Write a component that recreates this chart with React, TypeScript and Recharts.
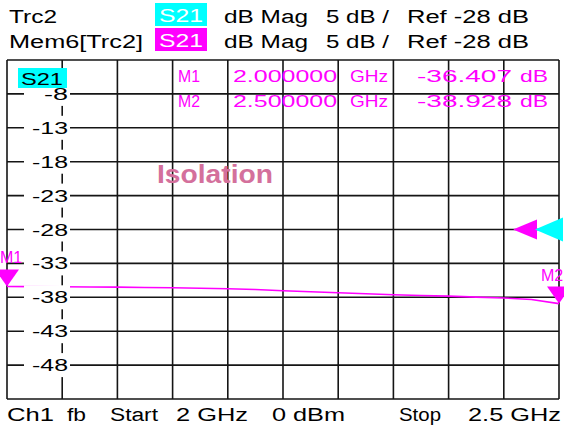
import React from 'react';
import { LineChart, Line, XAxis, YAxis, CartesianGrid, ReferenceDot } from 'recharts';

// sweep points (GHz) and the memory trace S21 (dB)
const freqs = [
  2.0, 2.025, 2.05, 2.075, 2.1, 2.125, 2.15, 2.175, 2.2, 2.225, 2.25,
  2.275, 2.3, 2.325, 2.35, 2.375, 2.4, 2.425, 2.45, 2.475, 2.5,
];
const s21 = [
  -36.41, -36.43, -36.45, -36.47, -36.5, -36.55, -36.6, -36.67, -36.75, -36.86, -37.03,
  -37.18, -37.32, -37.48, -37.63, -37.74, -37.83, -37.97, -38.1, -38.32, -38.93,
];
const freqTicks = [2.0, 2.05, 2.1, 2.15, 2.2, 2.25, 2.3, 2.35, 2.4, 2.45, 2.5];
const dbTicks = [-3, -8, -13, -18, -23, -28, -33, -38, -43, -48, -53];
const refLevel = -28;
const markers = [
  { name: 'M1', f: 2.0, db: -36.407, freqText: '2.000000', dbText: '-36.407' },
  { name: 'M2', f: 2.5, db: -38.928, freqText: '2.500000', dbText: '-38.928' },
];

const data = freqs.map((f, i) => ({ f, s21: s21[i] }));

const FONT = '"Liberation Sans", Arial, sans-serif';
const MAGENTA = '#ff00ff';
const CYAN = '#00ffff';

function T({ x, y, w, children, size = 17, fill = '#000', weight = 'normal' }: any) {
  return (
    <text x={x} y={y} fontSize={size} fill={fill} fontWeight={weight} fontFamily={FONT}
      textLength={w} lengthAdjust="spacingAndGlyphs">{children}</text>
  );
}

function DbTick(props: any) {
  const { y, payload } = props;
  const v = payload.value;
  if (v === dbTicks[0] || v === dbTicks[dbTicks.length - 1]) return <g />;
  const label = String(v);
  return (
    <g>
      <rect x={24} y={y - 12} width={46} height={24} fill="#fff" />
      <text x={68} y={y + 6} textAnchor="end" fontSize={17} fontFamily={FONT} fill="#000"
        textLength={label.length * 12} lengthAdjust="spacingAndGlyphs">{label}</text>
    </g>
  );
}

function MarkerShape(name: string, right: boolean) {
  return ({ cx, cy }: any) => (
    <g>
      <path d={`M${cx},${cy} L${cx - 12},${cy - 17} L${cx + 12},${cy - 17} Z`} fill={MAGENTA} />
      <text x={right ? cx - 18 : cx - 7} y={cy - 23} fontSize={16} fill={MAGENTA} fontFamily={FONT}>{name}</text>
    </g>
  );
}

function RefShape({ cx, cy }: any) {
  return (
    <g>
      <line x1={cx - 46} y1={cy} x2={cx - 22} y2={cy} stroke="#000" strokeDasharray="3 2" />
      <path d={`M${cx - 46},${cy} L${cx - 22},${cy - 10} L${cx - 22},${cy + 10} Z`} fill={MAGENTA} />
      <path d={`M${cx - 24},${cy} L${cx + 4},${cy - 12} L${cx + 4},${cy + 12} Z`} fill={CYAN} />
    </g>
  );
}

export default function App() {
  return (
    <div style={{ position: 'absolute', left: 0, top: 0, width: 564, height: 433, background: '#fff', overflow: 'hidden' }}>
      <LineChart width={564} height={433} data={data} margin={{ top: 60, right: 5, bottom: 34, left: 7 }}>
        <CartesianGrid stroke="#151515" strokeWidth={1.6} />
        <XAxis type="number" dataKey="f" domain={[2, 2.5]} ticks={freqTicks} hide />
        <YAxis type="number" domain={[-53, -3]} ticks={dbTicks} interval={0} mirror
          axisLine={false} tickLine={false} tick={(p: any) => <DbTick {...p} />} allowDataOverflow />
        <Line type="linear" dataKey="s21" stroke={MAGENTA} strokeWidth={1.6} dot={false} isAnimationActive={false} />
        <ReferenceDot x={2.5} y={refLevel} ifOverflow="visible" shape={RefShape} />
        {markers.map((m, i) => (
          <ReferenceDot key={m.name} x={m.f} y={m.db} ifOverflow="visible" shape={MarkerShape(m.name, i === 1)} />
        ))}
      </LineChart>
      <svg width={564} height={433} style={{ position: 'absolute', left: 0, top: 0, pointerEvents: 'none' }}>
        {/* header */}
        <T x={9} y={23} w={48} size={18}>Trc2</T>
        <rect x={155} y={3} width={52} height={23} fill={CYAN} />
        <T x={159} y={22} w={44} size={18} fill="#fff">S21</T>
        <T x={224} y={23} w={84} size={18}>dB Mag</T>
        <T x={326} y={23} w={63} size={18}>5 dB /</T>
        <T x={407} y={23} w={122} size={18}>Ref -28 dB</T>
        <T x={9} y={48} w={134} size={18}>Mem6[Trc2]</T>
        <rect x={155} y={28} width={52} height={23} fill={MAGENTA} />
        <T x={159} y={47} w={44} size={18} fill="#fff">S21</T>
        <T x={224} y={48} w={84} size={18}>dB Mag</T>
        <T x={326} y={48} w={63} size={18}>5 dB /</T>
        <T x={407} y={48} w={122} size={18}>Ref -28 dB</T>
        {/* trace label inside the diagram */}
        <rect x={18} y={68} width={49} height={20} fill={CYAN} />
        <T x={21} y={85} w={42}>S21</T>
        {markers.map((m, i) => (
          <g key={m.name}>
            <T x={178} y={82 + i * 25} w={22} fill={MAGENTA}>{m.name}</T>
            <T x={233} y={82 + i * 25} w={104} fill={MAGENTA}>{m.freqText}</T>
            <T x={350} y={82 + i * 25} w={38} fill={MAGENTA}>GHz</T>
            <T x={417} y={82 + i * 25} w={95} fill={MAGENTA}>{m.dbText}</T>
            <T x={520} y={82 + i * 25} w={28} fill={MAGENTA}>dB</T>
          </g>
        ))}
        <T x={157} y={183} w={116} size={26} weight="bold" fill="#d4709c">Isolation</T>
        {/* footer */}
        <T x={7} y={421} w={47} size={18}>Ch1</T>
        <T x={67} y={421} w={19} size={18}>fb</T>
        <T x={110} y={421} w={48} size={18}>Start</T>
        <T x={176} y={421} w={72} size={18}>2 GHz</T>
        <T x={272} y={421} w={73} size={18}>0 dBm</T>
        <T x={399} y={421} w={42} size={18}>Stop</T>
        <T x={468} y={421} w={93} size={18}>2.5 GHz</T>
      </svg>
    </div>
  );
}
